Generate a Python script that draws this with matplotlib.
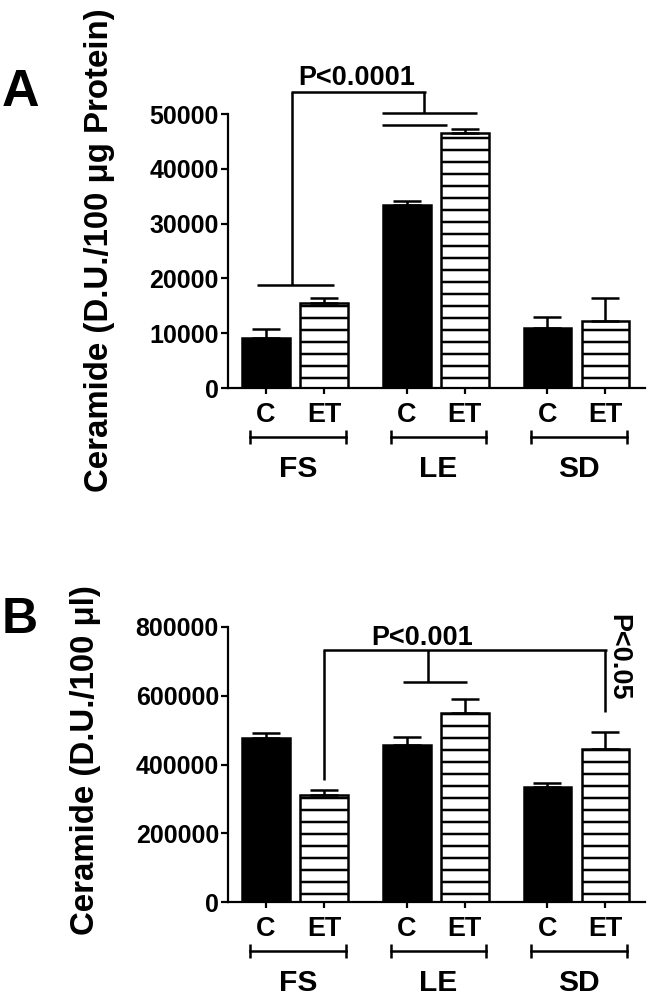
import matplotlib
matplotlib.use('Agg')
import matplotlib.pyplot as plt
import matplotlib.transforms as mtransforms
import numpy as np

plt.rcParams['font.family'] = ['Liberation Sans', 'DejaVu Sans']
plt.rcParams['font.weight'] = 'bold'
plt.rcParams['hatch.linewidth'] = 2.5

# values
strains = ['FS', 'LE', 'SD']
treatments = ['C', 'ET']

# panel A - ceramide per 100 ug protein
a_mean = [9100, 15500, 33400, 46500, 10900, 12300]
a_sem = [1700, 950, 700, 700, 2100, 4100]
a_yticks = [0, 10000, 20000, 30000, 40000, 50000]
a_label = 'Ceramide (D.U./100 \u03bcg Protein)'
a_pval = 'P<0.0001'

# panel B - ceramide per 100 ul
b_mean = [476000, 311000, 458000, 549000, 334000, 446000]
b_sem = [15000, 16000, 21000, 42000, 11000, 50000]
b_yticks = [0, 200000, 400000, 600000, 800000]
b_label = 'Ceramide (D.U./100 \u03bcl)'
b_pval = 'P<0.001'
b_pval2 = 'P<0.05'

# heights of the significance brackets (data units)
a_fs_level, a_top_level, a_le_upper, a_le_lower = 18800, 54000, 50200, 48000
b_top_level, b_fs_start, b_le_level, b_sd_start = 733000, 355000, 640000, 553000

W, H, DPI = 649, 1000, 72
fig = plt.figure(figsize=(W / DPI, H / DPI), dpi=DPI)

groups = np.arange(len(strains))
off = 0.206
xpos = [g + o for g in groups for o in (-off, off)]
LW = 2.5


def draw_panel(ax, mean, sem, yticks):
    for i in range(len(xpos)):
        is_et = i % 2 == 1
        ax.bar(xpos[i], mean[i], width=0.34, color='white' if is_et else 'black',
               edgecolor='black', linewidth=LW, hatch='-' if is_et else None, zorder=2)
    ax.errorbar(xpos, mean, yerr=[np.zeros(len(sem)), sem], fmt='none', ecolor='black',
                elinewidth=LW, capsize=14, capthick=LW, zorder=3)
    ax.set_xlim(-0.476, 2.487)
    ax.set_ylim(yticks[0], yticks[-1])
    ax.set_yticks(yticks)
    ax.set_yticklabels([str(t) for t in yticks])
    ax.set_xticks(xpos)
    ax.set_xticklabels([])
    for s in ['top', 'right']:
        ax.spines[s].set_visible(False)
    for s in ['left', 'bottom']:
        ax.spines[s].set_linewidth(2.2)
    ax.tick_params(direction='out', length=7, width=2.2, labelsize=25, pad=2)
    ax.tick_params(axis='x', length=6)

    # C / ET under each bar
    for i, x in enumerate(xpos):
        ax.annotate(treatments[i % 2], xy=(x, 0), xycoords=('data', 'axes fraction'),
                    xytext=(0, -34), textcoords='offset points', ha='center',
                    va='baseline', fontsize=27)
    # group brackets with strain names
    tr = mtransforms.blended_transform_factory(ax.transData, ax.transAxes) + \
        mtransforms.ScaledTranslation(0, -49 / 72, fig.dpi_scale_trans)
    for g, name in zip(groups, strains):
        ax.plot([g - 0.32, g + 0.36], [0, 0], transform=tr, color='black', lw=LW,
                marker='|', markersize=14, mew=LW, clip_on=False)
        ax.annotate(name, xy=(g + 0.02, 0), xycoords=('data', 'axes fraction'),
                    xytext=(0, -89), textcoords='offset points', ha='center',
                    va='baseline', fontsize=30)


def line(ax, xs, ys):
    ax.plot(xs, ys, color='black', lw=LW, clip_on=False, solid_capstyle='butt')


# panel A
axA = fig.add_axes([228 / W, 0.612, 417 / W, 0.274])
draw_panel(axA, a_mean, a_sem, a_yticks)
line(axA, [-0.27, 0.277], [a_fs_level, a_fs_level])
line(axA, [-0.02, -0.02], [a_fs_level, a_top_level])
line(axA, [-0.03, 0.93], [a_top_level, a_top_level])
line(axA, [0.92, 0.92], [a_top_level, a_le_upper])
line(axA, [0.62, 1.29], [a_le_upper, a_le_upper])
line(axA, [0.62, 1.08], [a_le_lower, a_le_lower])
axA.text(0.437, 55300, a_pval, ha='center', va='baseline', fontsize=27)

# panel B
axB = fig.add_axes([228 / W, 0.098, 417 / W, 0.275])
draw_panel(axB, b_mean, b_sem, b_yticks)
line(axB, [off, off], [b_fs_start, b_top_level])
line(axB, [off - 0.01, 2 + off + 0.01], [b_top_level, b_top_level])
line(axB, [0.945, 0.945], [b_top_level, b_le_level])
line(axB, [0.767, 1.222], [b_le_level, b_le_level])
line(axB, [2 + off, 2 + off], [b_top_level, b_sd_start])
axB.text(0.90, 748000, b_pval, ha='center', va='baseline', fontsize=27)
axB.text(2.295, 713000, b_pval2, ha='center', va='center', rotation=-90, fontsize=27)

# y labels and panel letters
fig.text(100 / W, 1 - 250 / H, a_label, rotation=90, ha='center', va='center', fontsize=33)
fig.text(86 / W, 1 - 760 / H, b_label, rotation=90, ha='center', va='center', fontsize=33)
fig.text(20 / W, 1 - 92 / H, 'A', ha='center', va='center', fontsize=52)
fig.text(20 / W, 1 - 620 / H, 'B', ha='center', va='center', fontsize=50)

fig.savefig('out.png', dpi=DPI)
